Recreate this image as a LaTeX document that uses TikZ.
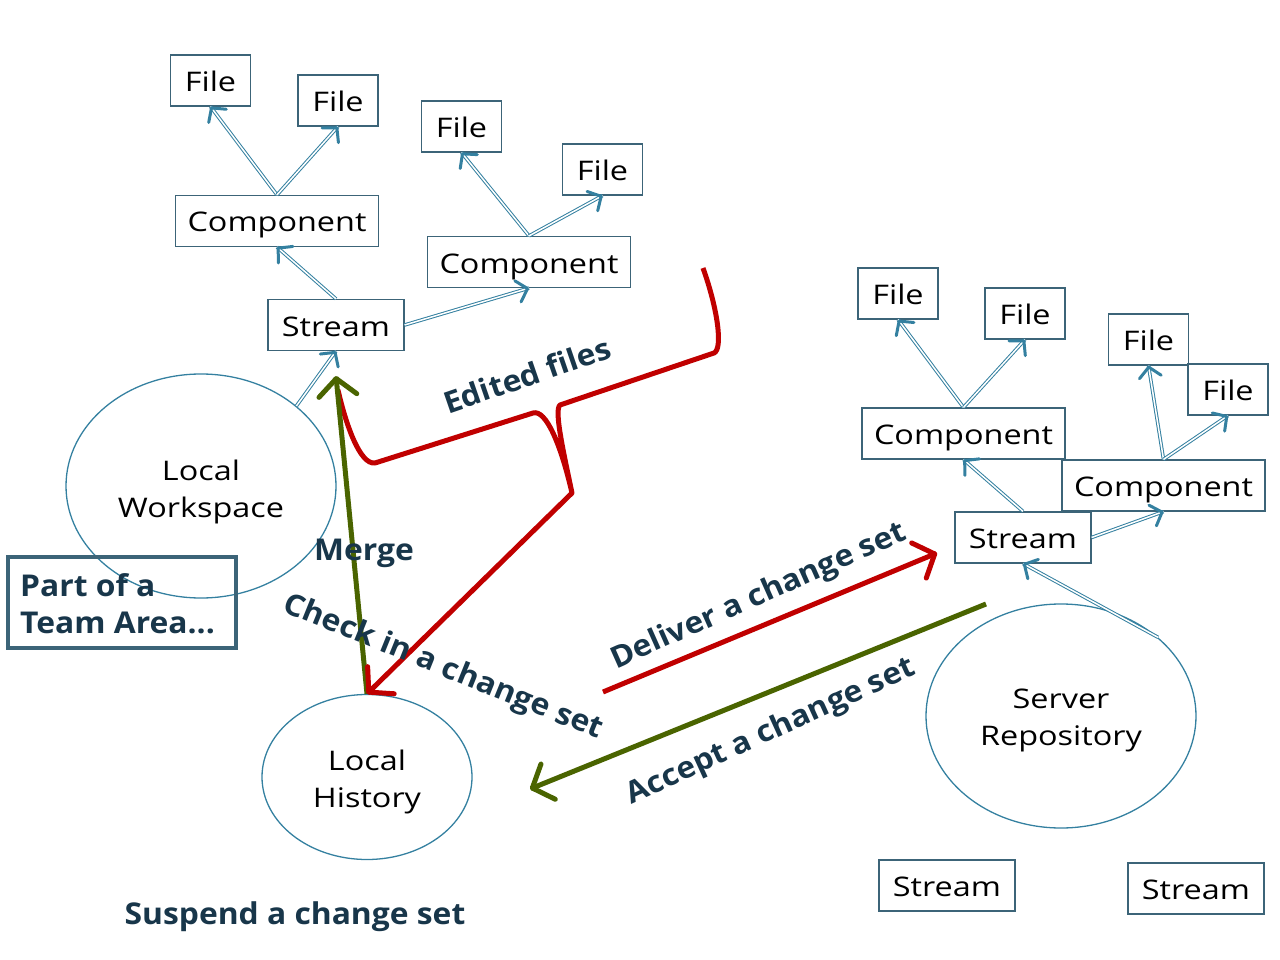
\documentclass[tikz,border=0pt]{standalone}
\usepackage{fontspec}
\setmainfont{Open Sans}[FakeStretch=1.2]
\newfontfamily\labelfont{Open Sans}[FakeStretch=1.06]
\usepackage{tikz}
\usetikzlibrary{shapes.geometric, arrows.meta, positioning, calc, decorations.markings}

\definecolor{linkblue}{RGB}{52,128,160}
\definecolor{boxline}{RGB}{60,100,120}
\definecolor{navy}{RGB}{24,54,74}
\definecolor{flowred}{RGB}{192,0,0}
\definecolor{flowgreen}{RGB}{74,100,0}

\begin{document}
\begin{tikzpicture}[
	x=1pt, y=-1pt,
	every node/.style={font=\fontsize{27}{37}\selectfont},
	box/.style={rectangle, draw=boxline, line width=1.2pt, fill=white, inner sep=0pt, minimum height=51pt, text height=22pt, text depth=0pt},
	filebox/.style={box, minimum width=80pt},
	compbox/.style={box, minimum width=203pt},
	streambox/.style={box, minimum width=136pt},
	cloud/.style={ellipse, draw=linkblue, line width=1.3pt, inner sep=0pt},
	cloudtext/.style={align=center, inner sep=0pt},
	link/.style={draw=linkblue, line width=1pt, double=white, double distance=1.5pt,
		postaction={decorate, decoration={markings, mark=at position 1 with {\arrow[linkblue, line width=3pt]{Straight Barb[length=10pt, width=22pt, round]}}}}},
	flow/.style={line width=5pt, shorten >=1pt,
		postaction={decorate, decoration={markings, mark=at position 1 with {\arrow[line width=5pt]{Straight Barb[length=17pt, width=38pt, round]}}}}},
	tag/.style={text=navy, font=\labelfont\fontsize{30}{37}\selectfont\bfseries, inner sep=0pt}
]
\useasboundingbox (0,0) rectangle (1280,960);

% Local side
\node[filebox] (fileA) at (210.5,80.5) {File};
\node[filebox] (fileB) at (338,100.5) {File};
\node[filebox] (fileC) at (461.5,126.5) {File};
\node[filebox] (fileD) at (602.5,169.5) {File};
\node[compbox] (cmpA) at (277,221) {Component};
\node[compbox] (cmpB) at (529,262) {Component};
\node[streambox] (strA) at (336,325) {Stream};
\node[cloud, minimum width=270pt, minimum height=224pt] (ws) at (201,486) {};
\node[cloudtext] (wstxt) at ([yshift=-6pt]ws.center) {Local\\Workspace};
\node[cloud, minimum width=210pt, minimum height=165pt] (hist) at (367,777) {};
\node[cloudtext] (histtxt) at ([yshift=-5pt]hist.center) {Local\\History};

\draw[link] (cmpA.north) -- (fileA.south);
\draw[link] (cmpA.north) -- (fileB.south);
\draw[link] (cmpB.north) -- (fileC.south);
\draw[link] (cmpB.north) -- (fileD.south);
\draw[link] (strA.north) -- (cmpA.south);
\draw[link] (strA.east) -- (cmpB.south);
\draw[link] (ws.40) -- (strA.south);

% Server side
\node[filebox] (fileE) at (898,293.5) {File};
\node[filebox] (fileF) at (1025,313.5) {File};
\node[filebox] (fileG) at (1148.5,339.5) {File};
\node[filebox] (fileH) at (1228,389.5) {File};
\node[compbox] (cmpC) at (963.5,433.5) {Component};
\node[compbox] (cmpD) at (1163.5,485.5) {Component};
\node[streambox] (strB) at (1023,537.5) {Stream};
\node[cloud, minimum width=270pt, minimum height=224pt] (srv) at (1061,716) {};
\node[cloudtext] (srvtxt) at ([yshift=-4pt]srv.center) {Server\\Repository};
\node[streambox] (strC) at (947,885.5) {Stream};
\node[streambox] (strD) at (1196,888.5) {Stream};

\draw[link] (cmpC.north) -- (fileE.south);
\draw[link] (cmpC.north) -- (fileF.south);
\draw[link] (cmpD.north) -- (fileG.south);
\draw[link] (cmpD.north) -- (fileH.south);
\draw[link] (strB.north) -- (cmpC.south);
\draw[link] (strB.east) -- (cmpD.south);
\draw[link] (srv.39) -- (strB.south);

% Team area note
\node[draw=boxline, line width=4pt, minimum width=228pt, minimum height=91pt, inner sep=0pt] (team) at (122,602.5) {};
\node[tag, align=left, anchor=west] (teamtxt) at ([xshift=14pt, yshift=-1pt]team.west) {Part of a\\Team Area...};

% Edited files brace
\coordinate (tip) at (572,493);
\draw[flowred, line width=5pt, line join=round]
	(338,390) .. controls (346,425) and (360,465) .. (375,463) -- (533,413)
	.. controls (546,409) and (561,445) .. (tip)
	.. controls (563,450) and (554,410) .. (560,405) -- (714,353)
	.. controls (723,349) and (718,310) .. (703,268);

% Flows
\coordinate (dlvA) at (603,692);
\coordinate (dlvB) at (937,553);
\coordinate (accA) at (986,604);
\coordinate (accB) at (530,789);
\draw[flow, flowgreen] (hist.north) -- ([yshift=-25pt]strA.south);
\draw[flow, flowred] (tip) -- (hist.north);
\draw[flow, flowred] (dlvA) -- (dlvB);
\draw[flow, flowgreen] (accA) -- (accB);

% Labels
\node[tag, rotate=19] (edited) at (527,375) {Edited files};
\node[tag] (merge) at (364,553) {Merge};
\node[tag, rotate=-22] (checkin) at (443,668) {Check in a change set};
\node[tag, rotate=24] (deliver) at (759,597) {Deliver a change set};
\node[tag, rotate=24.5] (accept) at (771,732) {Accept a change set};
\node[tag] (suspend) at (295,917) {Suspend a change set};

\end{tikzpicture}
\end{document}
